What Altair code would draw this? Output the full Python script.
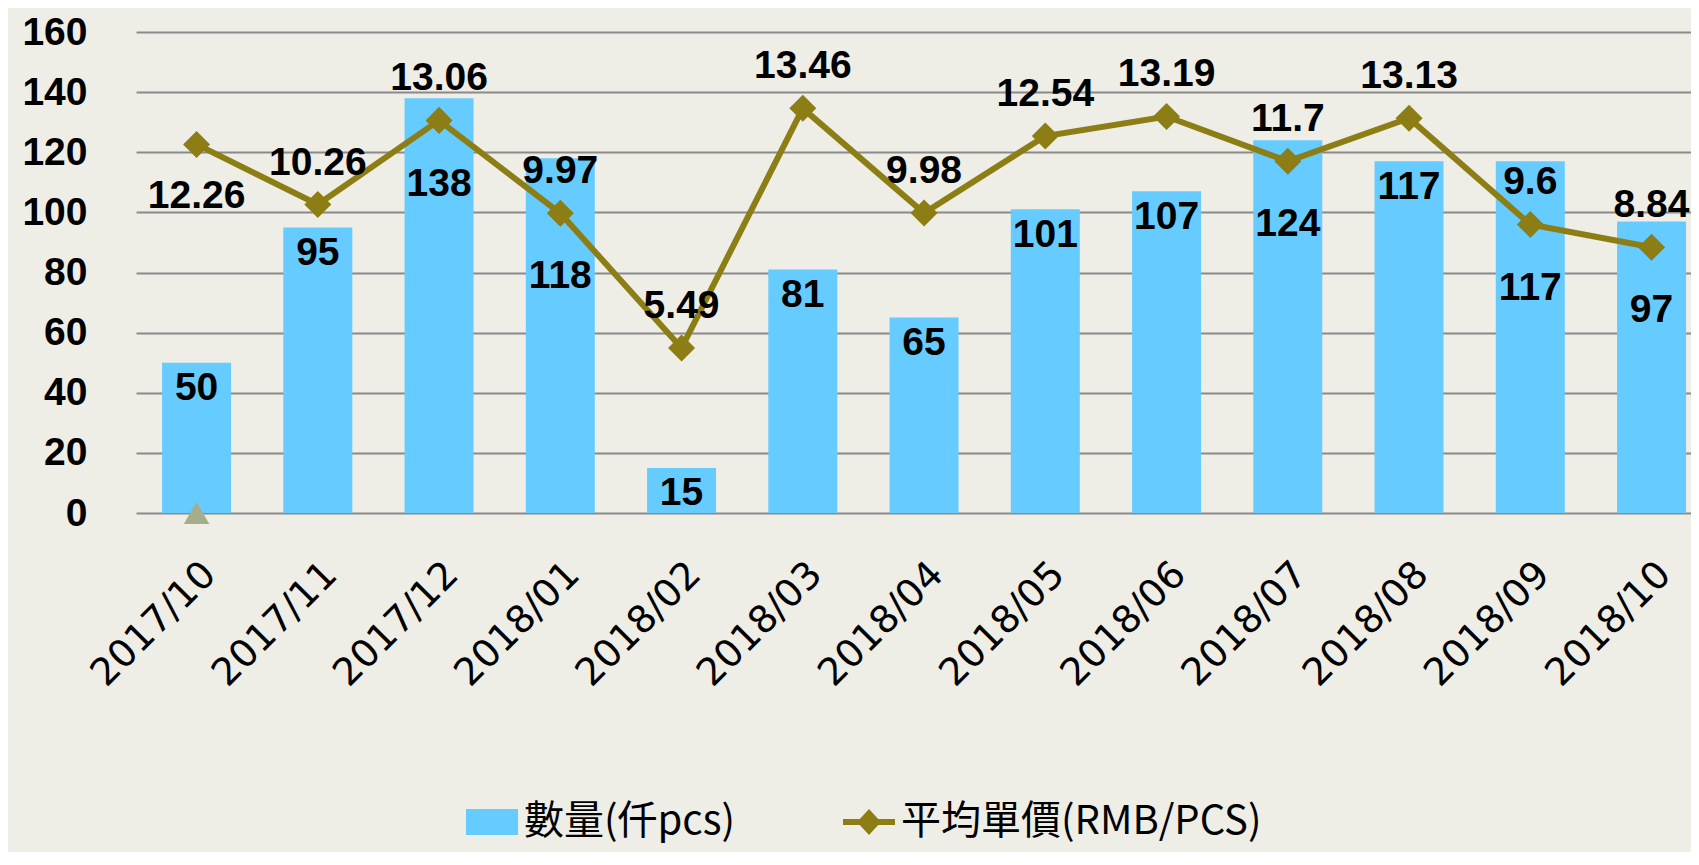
import altair as alt
import pandas as pd

# ---- data ----
months = ["2017/10", "2017/11", "2017/12", "2018/01", "2018/02", "2018/03", "2018/04",
          "2018/05", "2018/06", "2018/07", "2018/08", "2018/09", "2018/10"]
quantity = [50, 95, 138, 118, 15, 81, 65, 101, 107, 124, 117, 117, 97]
avg_price = [12.26, 10.26, 13.06, 9.97, 5.49, 13.46, 9.98, 12.54, 13.19, 11.7, 13.13, 9.6, 8.84]
marker_month = ["2017/10"]
marker_value = [0]

QTY = "數量(仟pcs)"
PRICE = "平均單價(RMB/PCS)"
series_names = [QTY, PRICE]

BLUE = "#66CCFF"
OLIVE = "#8C7E14"
TRI = "#A7AC8A"
GRID = "#8A8A8A"
BG = "#EEEDE6"

df = pd.DataFrame({"month": months, "qty": quantity, "price": avg_price})
marker_df = pd.DataFrame({"month": marker_month, "v": marker_value})

x_enc = alt.X(
    "month:N", sort=months, title=None,
    scale=alt.Scale(paddingInner=0.431, paddingOuter=0.128, align=0.84),
    axis=alt.Axis(labelAngle=-45, labelFont="DejaVu Sans", labelFontSize=38,
                  labelColor="black", ticks=False,
                  domain=False, grid=False, labelPadding=42),
)
y_scale = alt.Scale(domain=[0, 160], nice=False)
y_axis = alt.Axis(values=[0, 20, 40, 60, 80, 100, 120, 140, 160], labelFont="Liberation Sans",
                  labelFontSize=39, labelFontWeight="bold", labelColor="black",
                  labelPadding=49, ticks=False, domain=False, gridColor=GRID, gridWidth=2)

color_scale = alt.Scale(domain=series_names, range=[BLUE, OLIVE])
RECT = "M-1,-0.5H1V0.5H-1Z"
LINE_DIAMOND = "M-1,-0.115H-0.354L0,-0.5L0.354,-0.115H1V0.115H0.354L0,0.5L-0.354,0.115H-1Z"
shape_scale = alt.Scale(domain=series_names, range=[RECT, LINE_DIAMOND])
legend = alt.Legend(title=None, orient="none", legendX=330, legendY=764, direction="horizontal",
                    labelFont="Noto Sans CJK TC", labelFontSize=40, labelColor="black",
                    labelLimit=2000, labelOffset=6, columnPadding=108, symbolSize=2704,
                    symbolStrokeWidth=0, symbolOpacity=1)

base = alt.Chart(df)

bars = base.transform_calculate(series=f"'{QTY}'").mark_bar().encode(
    x=x_enc,
    y=alt.Y("qty:Q", scale=y_scale, axis=y_axis, title=None),
    color=alt.Color("series:N", scale=color_scale, legend=legend),
)

bar_labels = base.transform_calculate(
    pos="datum.price * 10 < datum.qty ? datum.price * 10 - 21 : datum.qty - 8.5"
).mark_text(font="Liberation Sans", fontSize=39, fontWeight="bold", color="black",
            baseline="middle").encode(
    x=alt.X("month:N", sort=months),
    y=alt.Y("pos:Q"),
    text=alt.Text("qty:Q"),
)

line = base.transform_calculate(p10="datum.price * 10").mark_line(
    color=OLIVE, strokeWidth=6).encode(
    x=alt.X("month:N", sort=months),
    y=alt.Y("p10:Q"),
)

diamonds = base.transform_calculate(p10="datum.price * 10").mark_point(
    shape="diamond", filled=True, size=730, color=OLIVE, opacity=1).encode(
    x=alt.X("month:N", sort=months),
    y=alt.Y("p10:Q"),
)

price_labels_above = base.transform_calculate(p10="datum.price * 10").transform_filter(
    f"datum.month != '{months[0]}'"
).mark_text(font="Liberation Sans", fontSize=39, fontWeight="bold", color="black",
            baseline="middle", dy=-42).encode(
    x=alt.X("month:N", sort=months),
    y=alt.Y("p10:Q"),
    text=alt.Text("price:Q"),
)

price_labels_below = base.transform_calculate(p10="datum.price * 10").transform_filter(
    f"datum.month == '{months[0]}'"
).mark_text(font="Liberation Sans", fontSize=39, fontWeight="bold", color="black",
            baseline="middle", dy=52).encode(
    x=alt.X("month:N", sort=months),
    y=alt.Y("p10:Q"),
    text=alt.Text("price:Q"),
)

triangle = alt.Chart(marker_df).mark_point(
    shape="triangle-up", filled=True, size=650, color=TRI, opacity=1).encode(
    x=alt.X("month:N", sort=months),
    y=alt.Y("v:Q"),
)

legend_layer = base.transform_filter("false").transform_calculate(
    series=f"'{PRICE}'").mark_point(filled=True, size=2704, opacity=1).encode(
    x=alt.X("month:N", sort=months),
    y=alt.Y("qty:Q"),
    color=alt.Color("series:N", scale=color_scale, legend=legend),
    shape=alt.Shape("series:N", scale=shape_scale, legend=legend),
)

chart = alt.layer(
    bars, triangle, line, diamonds, bar_labels, price_labels_above, price_labels_below,
    legend_layer
).properties(
    width=1555, height=481,
    autosize=alt.AutoSizeParams(type="none"),
    padding={"left": 128, "top": 24, "right": 0, "bottom": 339},
    background=BG,
).configure_view(stroke=None)

chart.save("out.html", embed_options={"renderer": "svg", "actions": False})
